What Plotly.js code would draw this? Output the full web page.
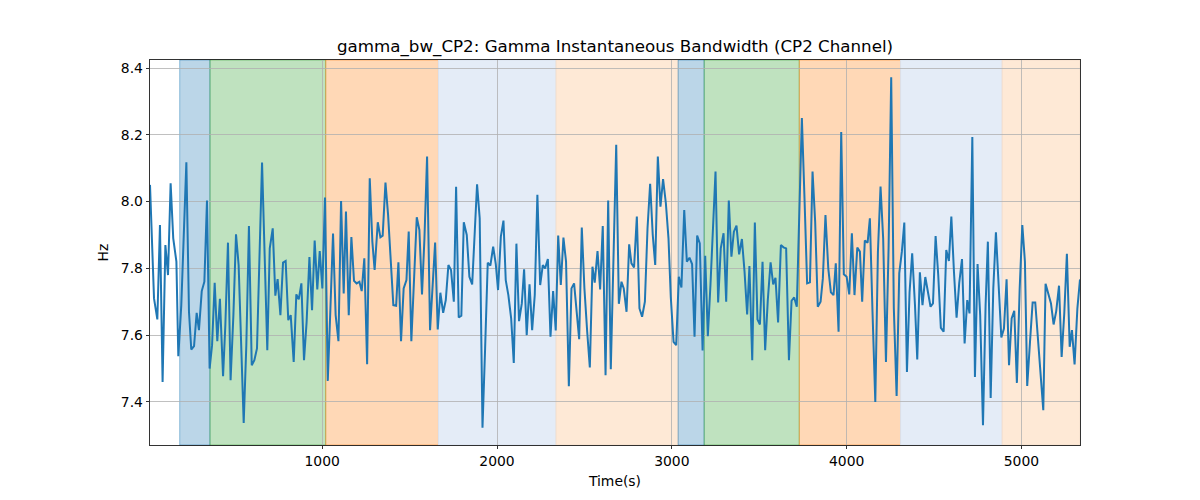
<!DOCTYPE html>
<html>
<head>
<meta charset="utf-8">
<script src="https://cdn.plot.ly/plotly-3.0.1.min.js"></script>
<style>html,body{margin:0;padding:0;background:#fff;}#chart{width:1200px;height:500px;}</style>
</head>
<body>
<div id="chart"></div>
<script>
var timeSec = [15,38,57,72,87,103,118,133,148,166,177,194,223,238,251,267,282,295,311,326,341,356,370,385,400,415,433,446,461,476,492,507,522,551,566,581,597,612,627,656,686,
700,717,732,745,761,776,791,806,820,837,852,866,881,896,911,927,942,957,972,986,1001,1016,1032,1047,1062,1077,1093,1108,1123,1136,1152,1167,1182,1197,1213,1226,1241,1257,1272,1287,1300,1318,1333,1346,1362,
1377,1392,1407,1423,1436,1451,1466,1482,1495,1510,1526,1541,1556,1571,1585,1600,1617,1632,1646,1661,1676,1692,1707,1722,1737,1753,1766,1781,1796,1810,1827,1842,1858,1873,1886,1901,1917,1932,1947,1962,1978,1993,2006,2022,2037,2050,
2065,2081,2096,2111,2126,2142,2155,2170,2186,2201,2216,2231,2247,2262,2275,2291,2306,2321,2336,2350,2365,2380,2395,2411,2426,2441,2456,2470,2485,2500,2516,2531,2546,2559,2575,2590,2605,2621,2636,2651,2682,2697,2712,2725,2741,2756,
2769,2784,2800,2815,2830,2846,2861,2876,2891,2905,2920,2935,2950,2966,2981,2994,3010,3025,3040,3055,3071,3086,3101,3116,3130,3145,3160,3176,3191,3206,3221,3235,3250,3265,3280,3296,3311,3326,3341,3355,3370,3385,3401,3416,3431,3444,
3460,3475,3490,3504,3519,3534,3549,3565,3580,3593,3608,3624,3639,3654,3670,3685,3700,3715,3744,3759,3774,3790,3805,3820,3835,3851,3864,3879,3895,3910,3925,3938,3954,3969,3984,4000,4015,4030,4045,4061,4076,4089,4104,4120,4133,
4148,4164,4179,4194,4209,4225,4240,4255,4270,4286,4301,4316,4330,4345,4360,4375,4391,4404,4419,4434,4450,4465,4480,4494,4509,4524,4539,4555,4570,4585,4599,4614,4629,4644,4660,4675,4690,4703,4719,4734,4749,4764,4780,4795,4808,
4824,4839,4854,4869,4885,4900,4915,4929,4944,4959,4974,4990,5005,5020,5033,5049,5064,5079,5094,5110,5125,5138,5154,5169,5184,5199,5215,5230,5245,5260,5276,5289,5304,5320,5335];

var bandwidthHz = [8.05,7.71,7.647,7.93,7.46,7.87,7.78,8.055,7.89,7.82,7.537,7.69,8.118,7.67,7.557,7.567,7.667,7.615,7.732,7.76,8.003,7.50,7.57,7.757,7.582,7.709,7.477,7.63,7.877,7.465,7.66,7.902,7.81,7.337,7.57,7.927,7.51,7.525,7.56,8.117,7.555,
7.86,7.92,7.718,7.768,7.66,7.817,7.822,7.645,7.66,7.52,7.722,7.707,7.755,7.525,7.64,7.834,7.675,7.883,7.737,7.852,7.74,8.012,7.463,7.68,7.904,7.66,7.582,8.002,7.725,7.97,7.66,7.894,7.763,7.755,7.76,7.732,7.83,7.513,8.07,7.88,7.795,7.938,7.893,7.898,8.057,
7.96,7.81,7.69,7.688,7.818,7.582,7.74,7.765,7.91,7.582,7.79,7.953,7.915,7.722,7.89,8.135,7.615,7.74,7.877,7.617,7.727,7.667,7.705,7.81,7.795,7.70,8.044,7.653,7.658,7.938,7.90,7.775,7.752,7.912,8.052,7.95,7.323,7.56,7.817,7.808,7.865,7.813,7.735,7.895,7.943,7.765,
7.72,7.65,7.517,7.874,7.642,7.695,7.797,7.60,7.752,7.615,7.72,8.02,7.75,7.81,7.80,7.828,7.595,7.732,7.614,7.898,7.75,7.892,7.82,7.447,7.74,7.755,7.67,7.588,7.922,7.74,7.61,7.503,7.805,7.757,7.852,7.737,7.927,7.48,8.003,7.498,8.17,7.694,7.76,7.74,7.67,7.872,
7.815,7.803,7.955,7.68,7.655,7.70,7.92,8.053,7.90,7.81,8.135,7.985,8.067,7.995,7.89,7.715,7.58,7.57,7.775,7.743,7.975,7.82,7.832,7.813,7.595,7.898,7.875,7.554,7.838,7.597,7.75,7.94,8.09,7.698,7.86,7.905,7.70,8.003,7.835,7.91,7.928,7.842,7.888,7.79,7.662,7.807,
7.525,7.937,7.647,7.632,7.82,7.555,7.705,7.818,7.752,7.772,7.638,7.87,7.863,7.86,7.525,7.703,7.713,7.685,8.25,8.01,7.755,7.758,8.09,7.94,7.685,7.70,7.77,7.96,7.80,7.728,7.72,7.815,7.61,8.208,7.782,7.775,7.722,7.905,7.72,7.862,7.85,7.70,7.883,7.877,7.95,
7.67,7.40,7.85,8.045,7.89,7.52,7.86,8.372,7.68,7.418,7.785,7.85,7.937,7.49,7.728,7.845,7.69,7.527,7.788,7.69,7.774,7.73,7.685,7.695,7.897,7.78,7.622,7.61,7.855,7.822,7.955,7.79,7.652,7.755,7.828,7.575,7.705,7.665,8.193,7.475,7.813,7.66,7.33,7.69,7.88,
7.412,7.74,7.908,7.76,7.593,7.62,7.767,7.51,7.65,7.673,7.457,7.74,7.93,7.82,7.448,7.58,7.698,7.698,7.59,7.485,7.375,7.754,7.722,7.695,7.632,7.672,7.748,7.535,7.665,7.844,7.565,7.615,7.512,7.68,7.767];

// shaded segments: start, end, fill colour, edge colour
var spanStart = [185, 358, 1020, 1665, 2338, 3036, 3185, 3729, 4309, 4890];
var spanEnd   = [358, 1020, 1665, 2338, 3036, 3185, 3729, 4309, 4890, 5335];
var spanFill  = ['rgba(31,119,180,0.3)','rgba(44,160,44,0.3)','rgba(255,127,14,0.3)','rgb(228,236,247)','rgb(254,233,214)',
                 'rgba(31,119,180,0.3)','rgba(44,160,44,0.3)','rgba(255,127,14,0.3)','rgb(228,236,247)','rgb(254,233,214)'];
var spanEdge  = ['rgba(31,119,180,0.45)','rgba(44,160,44,0.45)','rgba(255,127,14,0.45)','rgb(218,226,238)','rgb(244,222,204)',
                 'rgba(31,119,180,0.45)','rgba(44,160,44,0.45)','rgba(255,127,14,0.45)','rgb(218,226,238)','rgb(244,222,204)'];

var xTicks = [1000, 2000, 3000, 4000, 5000];
var yTicks = [7.4, 7.6, 7.8, 8.0, 8.2, 8.4];

var shapes = spanStart.map(function(s, i){
  return {type:'rect', xref:'x', yref:'paper', x0:s, x1:spanEnd[i], y0:0, y1:1,
    fillcolor: spanFill[i], layer:'below',
    line:{color: spanEdge[i], width:1}};
});

var font = 'DejaVu Sans, sans-serif';
var trace = {x: timeSec, y: bandwidthHz, type:'scatter', mode:'lines',
  line:{color:'#1f77b4', width:2}, hoverinfo:'skip'};

var axisCommon = {showgrid:true, gridcolor:'#b0b0b0', gridwidth:0.8, zeroline:false,
  showline:true, linecolor:'#000', linewidth:0.8, mirror:true,
  ticks:'outside', ticklen:3.5, tickwidth:0.8, tickcolor:'#000',
  tickfont:{family:font, size:13.9, color:'#000'}};

var layout = {
  width:1200, height:500,
  margin:{l:150, r:120, t:60, b:55},
  paper_bgcolor:'#fff', plot_bgcolor:'#fff',
  showlegend:false,
  title:{text:'gamma_bw_CP2: Gamma Instantaneous Bandwidth (CP2 Channel)',
    font:{family:font, size:16.7, color:'#000'}, x:0.5, xref:'paper', y:0.908, yref:'container', yanchor:'middle'},
  xaxis:Object.assign({}, axisCommon, {range:[15, 5335], tickvals:xTicks, ticktext:xTicks.map(String),
    title:{text:'Time(s)', font:{family:font, size:13.9, color:'#000'}, standoff:8}}),
  yaxis:Object.assign({}, axisCommon, {range:[7.271, 8.424], tickvals:yTicks, ticktext:yTicks.map(function(v){return v.toFixed(1);}),
    title:{text:'Hz', font:{family:font, size:13.9, color:'#000'}, standoff:8}}),
  shapes: shapes
};

Plotly.newPlot('chart', [trace], layout, {staticPlot:true, displayModeBar:false});
</script>
</body>
</html>
